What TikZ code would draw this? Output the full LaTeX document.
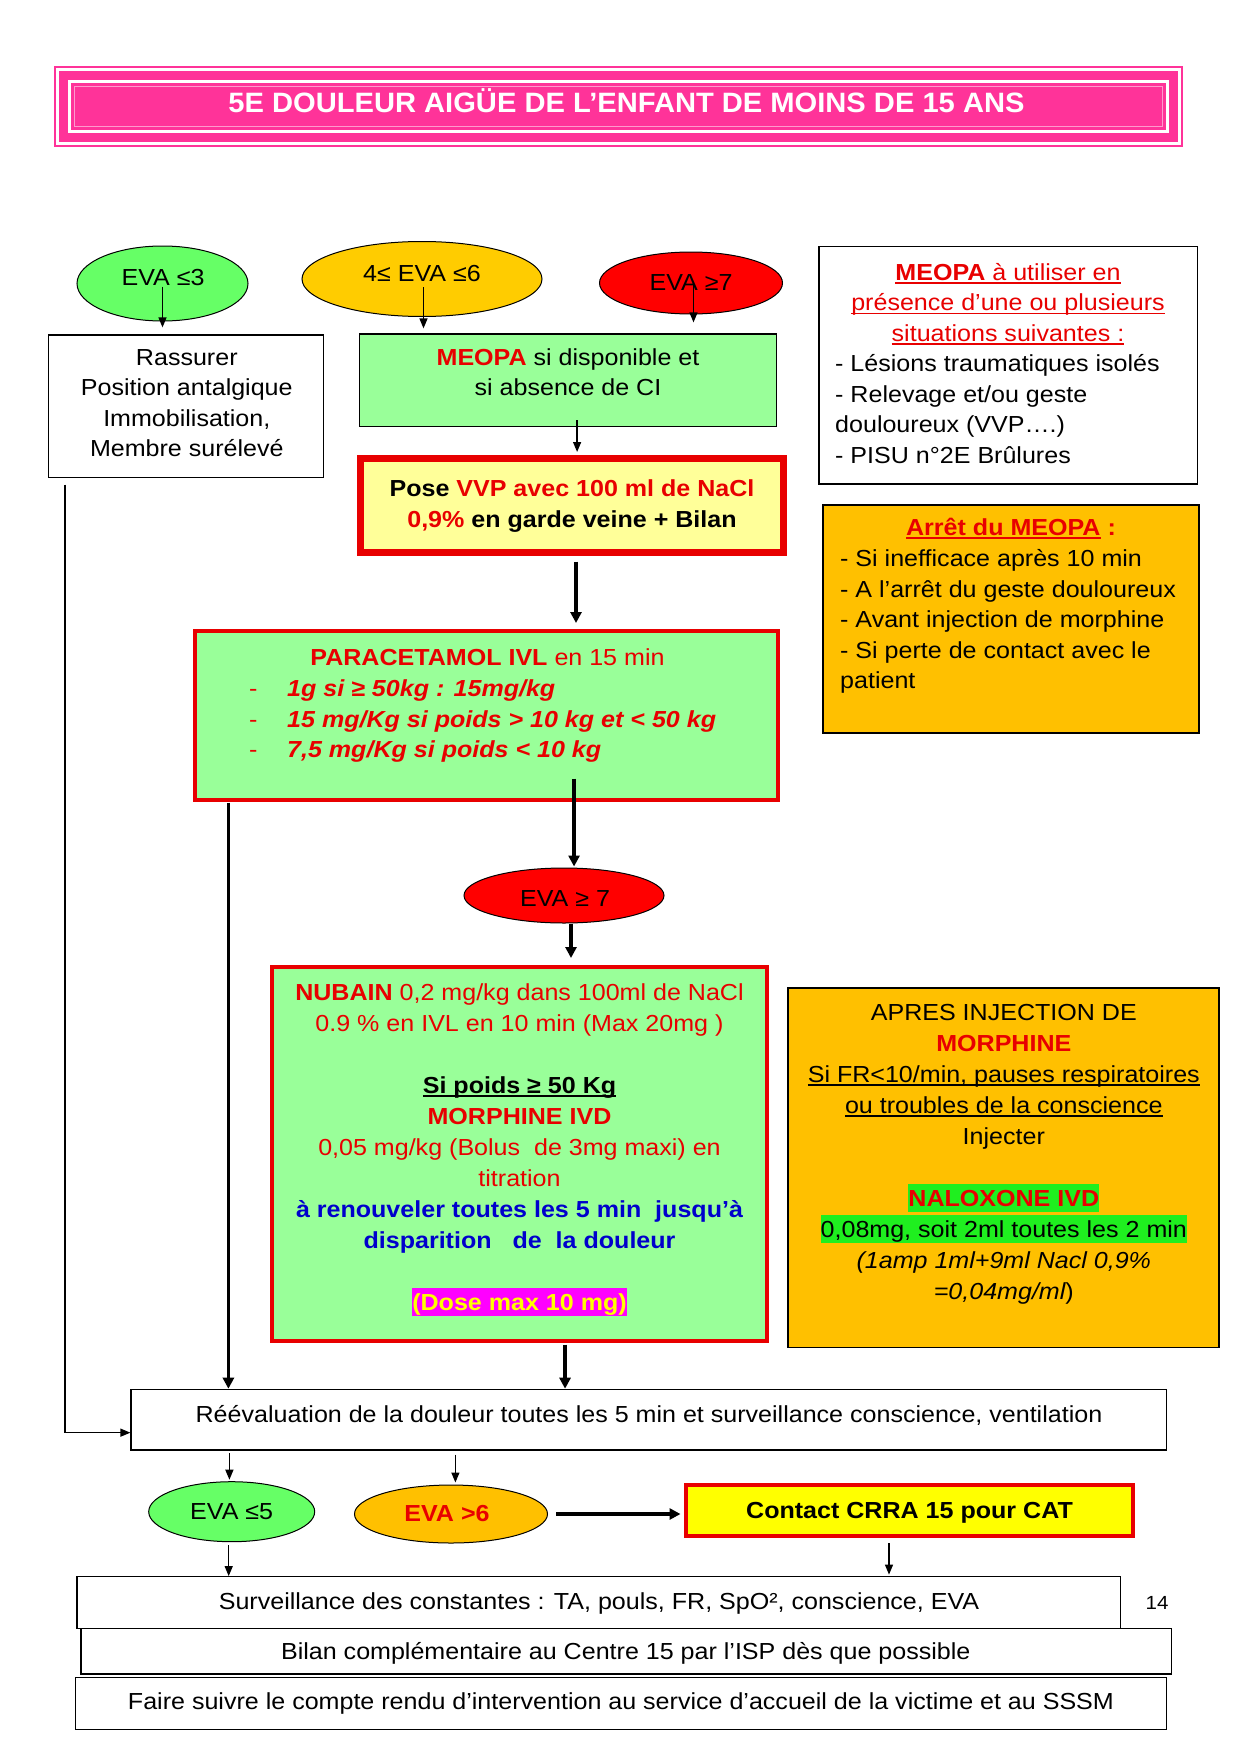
\documentclass[tikz,border=0pt]{standalone}
\usepackage{fontspec}
\setmainfont[FakeStretch=1.08]{Liberation Sans}
\newfontfamily\titlefont[FakeStretch=1.04]{Liberation Sans}
\usetikzlibrary{shapes.geometric,arrows.meta}
\definecolor{tred}{HTML}{E80000}
\definecolor{tpink}{HTML}{FF3399}
\definecolor{lgreen}{HTML}{99FF99}
\definecolor{egreen}{HTML}{66FF66}
\definecolor{gold}{HTML}{FFC000}
\definecolor{ygold}{HTML}{FFCC00}
\definecolor{pyellow}{HTML}{FFFF99}
\definecolor{tblue}{HTML}{0000CC}
\definecolor{hgreen}{HTML}{1FEF1F}
\definecolor{hmag}{HTML}{FF00FF}
\definecolor{hyel}{HTML}{FFFF00}
\newcommand\body{\fontsize{23.2}{30.5}\selectfont}
\newcommand\bodyb{\fontsize{23.2}{31}\selectfont}
\newcommand\myul[1]{\setbox0\hbox{#1}\rlap{\rule[-3.6pt]{\wd0}{1.6pt}}\box0\relax}
\newcommand\hlbox[2]{{\setlength\fboxsep{0pt}\colorbox{#1}{\rule[-5.5pt]{0pt}{28pt}#2}}}
\begin{document}
\begin{tikzpicture}[x=1pt,y=-1pt,
  box/.style={draw=black, line width=1.2pt, rectangle, inner sep=0},
  sz/.style 2 args={minimum width=#1, minimum height=#2},
  ell/.style={draw=black, line width=1pt, ellipse, inner sep=0},
  redbox/.style={draw=tred, line width=4pt, rectangle, inner sep=0},
  tx/.style={inner sep=0, font=\body, align=center},
  txb/.style={inner sep=0, font=\bodyb, align=center},
  txl/.style={inner sep=0, font=\body, align=left},
  tarr/.style={line width=1.3pt, -{Triangle[length=10pt,width=8pt]}},
  Tarr/.style={line width=3.5pt, -{Triangle[length=11pt,width=11pt]}}
]
\fill[white] (0,0) rectangle (1241,1755);
\useasboundingbox (0,0) rectangle (1241,1755);

% title
\node[rectangle, fill=tpink, inner sep=0, sz={1129}{81}] (title) at (618.5,106.5) {};
\draw[white, line width=2.7pt] ([shift={(4,4)}]title.north west) rectangle ([shift={(-4,-4)}]title.south east);
\draw[white, line width=3pt] ([shift={(15.5,15.5)}]title.north west) rectangle ([shift={(-15.5,-15.5)}]title.south east);
\draw[white, opacity=0.5, line width=1pt] ([shift={(20.5,20.5)}]title.north west) rectangle ([shift={(-20.5,-20.5)}]title.south east);
\node[inner sep=0, anchor=base, text=white, font=\titlefont\bfseries\fontsize{28}{32}\selectfont] (tt) at (626.5,112.3) {5E DOULEUR AIGÜE DE L’ENFANT DE MOINS DE 15 ANS};

% ellipses
\node[ell, fill=egreen, sz={171}{75}] (e1) at (162.5,283.5) {};
\node[ell, fill=ygold, sz={240}{75}] (e2) at (422,279) {};
\node[ell, fill=red, sz={183}{62}] (e3) at (691,283) {};
\node[ell, fill=red, sz={200}{55}] (e4) at (564,895.5) {};
\node[ell, fill=egreen, sz={166}{60}] (e5) at (231.7,1511.7) {};
\node[ell, fill=gold, sz={193}{58}] (e6) at (451,1514) {};

% boxes
\node[box, sz={274.8}{142.7}] (lb) at (186,406.35) {};
\node[box, fill=lgreen, sz={416.6}{92.7}] (mb) at (568.1,380.35) {};
\node[rectangle, inner sep=0, draw=tred, line width=6pt, fill=pyellow, sz={423.3}{94.7}] (pv) at (572,505.35) {};
\draw[tred, line width=1.7pt] ([shift={(6,6)}]pv.north west) rectangle ([shift={(-6,-6)}]pv.south east);
\node[box, fill=white, sz={378.7}{237.3}] (mr) at (1008.35,365.35) {};
\node[box, fill=gold, sz={376}{228}] (am) at (1011,619) {};
\node[redbox, fill=lgreen, sz={583.7}{168.7}] (pa) at (486.55,715.35) {};
\node[redbox, fill=lgreen, sz={494.3}{373.7}] (nb) at (519.55,1153.85) {};
\node[box, fill=gold, sz={431}{359.7}] (ap) at (1003.5,1167.85) {};
\node[box, sz={1035.7}{60.7}] (re) at (648.85,1419.65) {};
\node[redbox, fill=hyel, sz={447}{51}] (ct) at (909.5,1510.8) {};
\node[box, sz={1043.6}{51.6}] (sv) at (598.8,1602.5) {};
\node[box, sz={1090.4}{45.7}] (bl) at (626.2,1651.15) {};
\node[box, sz={1091.3}{51.6}] (fs) at (621,1703.5) {};

% ellipse texts
\node[tx, anchor=base] (e1t) at (163,285.7) {EVA ≤3};
\node[tx, anchor=base] (e2t) at (422,281.7) {4≤ EVA ≤6};
\node[tx, anchor=base] (e3t) at (691,290.7) {EVA ≥7};
\node[tx, anchor=base] (e4t) at (565,906) {EVA ≥ 7};
\node[tx, anchor=base] (e5t) at (231.7,1519.3) {EVA ≤5};
\node[tx, anchor=base, text=tred, font=\body\bfseries] (e6t) at (447,1521.7) {EVA >6};

% box texts
\node[tx, anchor=north] (lbt) at (186.8,343.65) {\strut Rassurer\\Position antalgique\\Immobilisation,\\Membre surélevé};
\node[tx, anchor=north] (mbt) at (568,343.65) {\strut{\bfseries\color{tred}MEOPA} si disponible et\\si absence de CI};
\node[tx, anchor=north, font=\body\bfseries] (pvt) at (572,475.35) {\strut Pose {\color{tred}VVP avec 100 ml de NaCl}\\{\color{tred}0,9\%} en garde veine + Bilan};
\node[tx, anchor=north, text=tred] (mrt1) at (1008,258.65) {\strut\myul{\textbf{MEOPA} à utiliser en}\\\myul{présence d’une ou plusieurs}\\\myul{situations suivantes :}};
\node[txl, anchor=north west] (mrt2) at (835,350.35) {\strut- Lésions traumatiques isolés\\- Relevage et/ou geste\\douloureux (VVP….)\\- PISU n°2E Brûlures};
\node[tx, anchor=base, text=tred, font=\body\bfseries] (amt1) at (1011,535) {\myul{Arrêt du MEOPA} :};
\node[txl, anchor=north west] (amt2) at (840,545.35) {\strut- Si inefficace après 10 min\\- A l’arrêt du geste douloureux\\- Avant injection de morphine\\- Si perte de contact avec le\\patient};
\node[tx, anchor=base, text=tred] (pat1) at (487.5,665) {\textbf{PARACETAMOL IVL} en 15 min};
\node[txl, anchor=north west, text=tred] (pad) at (249,675.35) {\strut-\\-\\-};
\node[txl, anchor=north west, text=tred, font=\body\bfseries\itshape] (pat2) at (287,675.35) {\strut 1g si ≥ 50kg : 15mg/kg\\15 mg/Kg si poids > 10 kg et < 50 kg\\7,5 mg/Kg si poids < 10 kg};
\node[txb, anchor=north, text=tred] (nbt) at (519.5,978.3) {\strut{\bfseries NUBAIN} 0,2 mg/kg dans 100ml de NaCl\\
0.9 \% en IVL en 10 min (Max 20mg )\\
\mbox{}\\
{\color{black}\bfseries\myul{Si poids ≥ 50 Kg}}\\
{\bfseries MORPHINE IVD}\\
0,05 mg/kg (Bolus~ de 3mg maxi) en\\
titration\\
{\color{tblue}\bfseries à renouveler toutes les 5 min~ jusqu’à}\\
{\color{tblue}\bfseries disparition~~ de~ la douleur}\\
\mbox{}\\
\hlbox{hmag}{\color{hyel}\bfseries(Dose max 10 mg)}};
\node[txb, anchor=north] (apt) at (1003.8,998.3) {\strut APRES INJECTION DE\\
{\color{tred}\bfseries MORPHINE}\\
\myul{Si FR<10/min, pauses respiratoires}\\
\myul{ou troubles de la conscience}\\
Injecter\\
\mbox{}\\
\hlbox{hgreen}{\color{tred}\bfseries NALOXONE IVD}\\
\hlbox{hgreen}{0,08mg, soit 2ml toutes les 2 min}\\
{\itshape (1amp 1ml+9ml Nacl 0,9\%}\\
{\itshape =0,04mg/ml})};
\node[tx, anchor=base] (ret) at (649,1422.7) {Réévaluation de la douleur toutes les 5 min et surveillance conscience, ventilation};
\node[tx, anchor=base, font=\body\bfseries] (ctt) at (909.5,1518.3) {Contact CRRA 15 pour CAT};
\node[tx, anchor=base] (svt) at (599,1609.3) {Surveillance des constantes : TA, pouls, FR, SpO², conscience, EVA};
\node[inner sep=0, anchor=base, font=\fontsize{19}{22}\selectfont] (pg) at (1157,1609.3) {14};
\node[tx, anchor=base] (blt) at (625.8,1659.3) {Bilan complémentaire au Centre 15 par l’ISP dès que possible};
\node[tx, anchor=base] (fst) at (621,1709.3) {Faire suivre le compte rendu d’intervention au service d’accueil de la victime et au SSSM};

% connectors
\draw[tarr, shorten >=7pt] ([yshift=-3pt]e1.center) -- (e1.center |- lb.north);
\draw[tarr, shorten >=5pt] ([xshift=1.5pt,yshift=-8pt]e2.center) -- ([xshift=1.5pt]e2.center |- mb.north);
\draw[tarr, shorten >=11pt] ([xshift=2.5pt,yshift=-2pt]e3.center) -- ([xshift=2.5pt]e3.center |- mb.north);
\draw[tarr, shorten >=3pt] ([xshift=9pt,yshift=7pt]mb.south) -- ([xshift=9pt]mb.south |- pv.north);
\draw[Tarr, shorten <=6pt, shorten >=6pt] ([xshift=4pt]pv.south) -- ([xshift=4pt]pv.south |- pa.north);
\draw[Tarr, shorten >=1pt] ([xshift=87.5pt,yshift=23pt]pa.south) -- ([xshift=87.5pt]pa.south |- e4.north);
\draw[Tarr, shorten >=7pt] ([xshift=7pt]e4.south) -- ([xshift=7pt]e4.south |- nb.north);
\draw[Tarr, shorten <=1pt] ([xshift=35.7pt]pa.south west) -- ([xshift=35.7pt]pa.south west |- re.north);
\draw[Tarr, shorten <=2pt] ([xshift=45.5pt]nb.south) -- ([xshift=45.5pt]nb.south |- re.north);
\draw[tarr] ([xshift=17pt,yshift=-6.3pt]lb.south west) |- ([yshift=-13pt]re.west);
\draw[tarr, shorten <=2.7pt, shorten >=1.5pt] ([xshift=99pt]re.south west) -- ([xshift=99pt]re.south west |- e5.north);
\draw[tarr, shorten <=4pt, shorten >=2pt] ([xshift=325pt]re.south west) -- ([xshift=325pt]re.south west |- e6.north);
\draw[Tarr, shorten <=8pt, shorten >=3.5pt] (e6.east) -- (e6.east -| ct.west);
\draw[tarr, shorten <=3pt] ([xshift=-3pt]e5.south) -- ([xshift=-3pt]e5.south |- sv.north);
\draw[tarr, shorten <=5pt, shorten >=1.5pt] ([xshift=-20.5pt]ct.south) -- ([xshift=-20.5pt]ct.south |- sv.north);
\end{tikzpicture}
\end{document}
